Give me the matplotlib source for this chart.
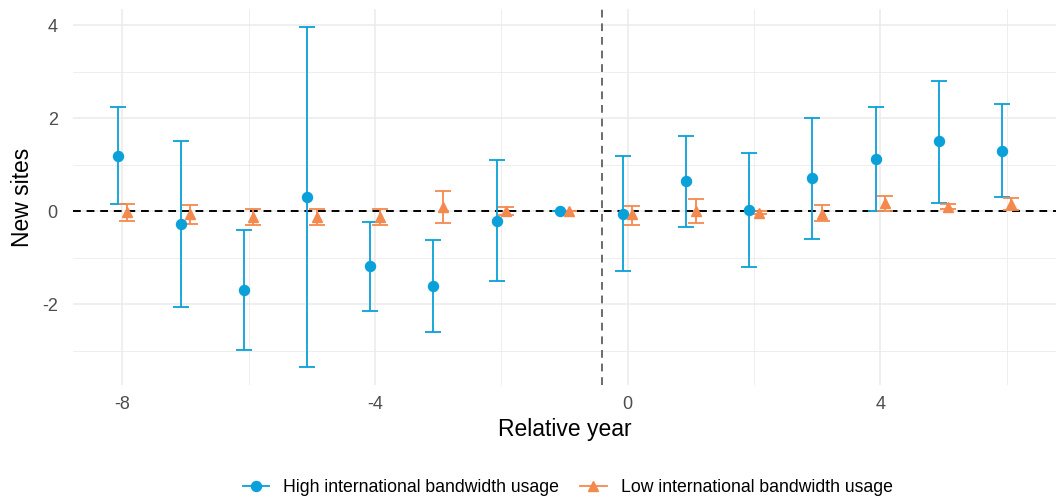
import numpy as np
import matplotlib.pyplot as plt
from matplotlib.lines import Line2D

plt.rcParams['font.family'] = ['Liberation Sans', 'DejaVu Sans']
plt.rcParams['axes.unicode_minus'] = False

# ==== data ====
years = [-8, -7, -6, -5, -4, -3, -2, -1, 0, 1, 2, 3, 4, 5, 6]

high_est = [1.19, -0.28, -1.69, 0.31, -1.18, -1.61, -0.20, 0.0, -0.05, 0.65, 0.03, 0.71, 1.12, 1.50, 1.29]
high_lo = [0.15, -2.07, -2.98, -3.36, -2.15, -2.60, -1.50, 0.0, -1.28, -0.33, -1.19, -0.60, 0.01, 0.17, 0.30]
high_hi = [2.25, 1.50, -0.40, 3.97, -0.23, -0.62, 1.10, 0.0, 1.19, 1.62, 1.25, 2.00, 2.25, 2.80, 2.30]

low_est = [-0.02, -0.07, -0.12, -0.13, -0.12, 0.09, 0.0, 0.0, -0.05, 0.0, -0.03, -0.05, 0.17, 0.10, 0.15]
low_lo = [-0.20, -0.27, -0.30, -0.30, -0.30, -0.25, -0.09, 0.0, -0.30, -0.26, -0.06, -0.22, 0.01, 0.05, 0.03]
low_hi = [0.155, 0.13, 0.05, 0.04, 0.04, 0.43, 0.10, 0.0, 0.12, 0.26, 0.0, 0.13, 0.33, 0.15, 0.28]

labels = ['High international bandwidth usage', 'Low international bandwidth usage']
event_line = -0.4

# ==== style ====
blue = '#0aa0d9'
orange = '#f4894d'
dodge = 0.075

fig = plt.figure(figsize=(10.61, 4.98), dpi=100)
ax = fig.add_axes([0.0688, 0.2277, 0.9265, 0.7533])

x = np.array(years, dtype=float)


def draw(xpos, est, lo, hi, color, marker, ms):
    est = np.array(est)
    err = np.vstack([est - np.array(lo), np.array(hi) - est])
    ax.errorbar(xpos, est, yerr=err, fmt=marker, color=color, ecolor=color,
                markersize=ms, elinewidth=1.3, capsize=5.5, capthick=1.3,
                zorder=3)


ax.axhline(0, color='black', linestyle=(0, (4, 3)), linewidth=1.4, zorder=2)
ax.axvline(event_line, color='#6b6b6b', linestyle=(0, (4, 3)), linewidth=1.4, zorder=2)

draw(x - dodge, high_est, high_lo, high_hi, blue, 'o', 7.2)
draw(x + dodge, low_est, low_lo, low_hi, orange, '^', 7.6)

ax.set_xlim(-8.78, 6.78)
ax.set_ylim(-3.73, 4.34)
ax.set_xticks([-8, -4, 0, 4])
ax.set_xticks([-6, -2, 2, 6], minor=True)
ax.set_yticks([-2, 0, 2, 4])
ax.set_yticks([-3, -1, 1, 3], minor=True)
ax.grid(True, which='major', color='#ebebeb', linewidth=1.1, zorder=0)
ax.grid(True, which='minor', color='#ebebeb', linewidth=0.6, zorder=0)
ax.set_axisbelow(True)
for s in ax.spines.values():
    s.set_visible(False)
ax.tick_params(which='both', length=0, labelsize=13, labelcolor='#4d4d4d')
ax.tick_params(axis='x', pad=8)
ax.tick_params(axis='y', pad=11)

ax.set_xlabel('Relative year', fontsize=16.5, labelpad=4)
ax.set_ylabel('New sites', fontsize=16.5, labelpad=6)

handles = [
    Line2D([], [], color=blue, marker='o', markersize=7.2, linewidth=1.3),
    Line2D([], [], color=orange, marker='^', markersize=7.6, linewidth=1.3),
]
fig.legend(handles, labels, loc='center', bbox_to_anchor=(0.535, 0.021), ncol=2,
           frameon=False, fontsize=12.7, handlelength=1.5, columnspacing=1.2,
           handletextpad=0.8)

plt.savefig('out.png', dpi=100)
